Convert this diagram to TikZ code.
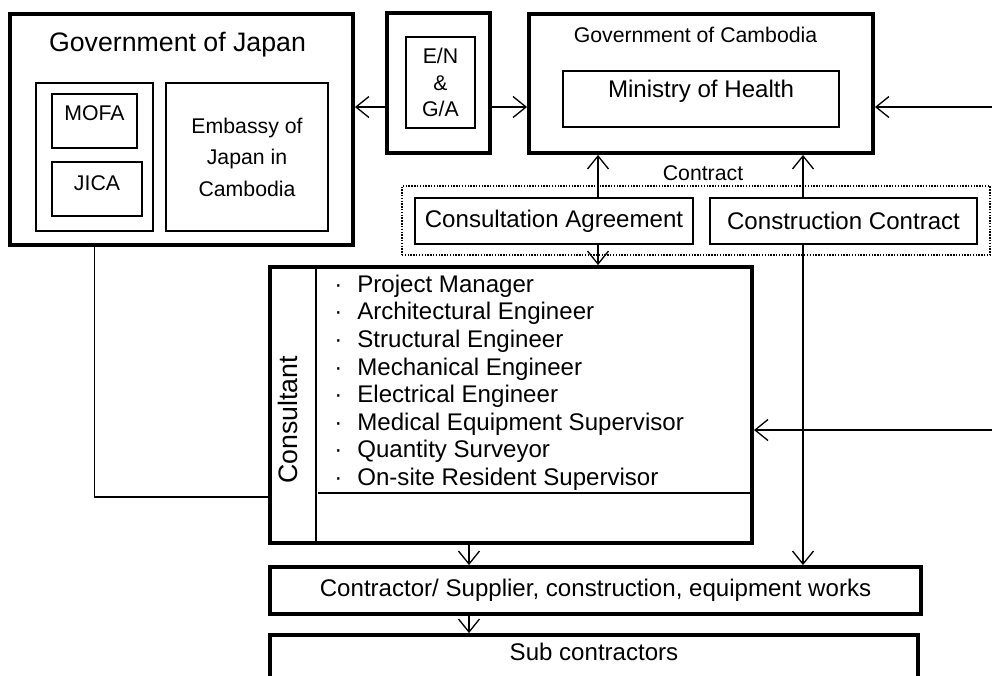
\documentclass[tikz,border=0pt]{standalone}
\usepackage{fontspec}
\setmainfont{Liberation Sans}
\usetikzlibrary{arrows.meta, positioning}

\newcommand{\sizebig}{\fontsize{15.2}{18}\selectfont}
\newcommand{\sizemid}{\fontsize{13.7}{15.7}\selectfont}
\newcommand{\sizesmall}{\fontsize{12.1}{15.3}\selectfont}
\newcommand{\sizeemb}{\fontsize{12.1}{17.9}\selectfont}
\newcommand{\staffdot}{\llap{\textperiodcentered\hspace{0.3cm}}}

\tikzset{
  bigbox/.style={draw, line width=2.2pt, inner sep=0pt},
  box/.style={draw, line width=1.1pt, inner sep=0pt},
  arr/.style={-{Straight Barb[length=0.26cm, width=0.42cm]}, line width=0.75pt},
  conn/.style={line width=0.75pt},
}

\begin{document}
\begin{tikzpicture}
  \useasboundingbox (0,0) rectangle (19.84,-13.5);
  \clip (0,0) rectangle (19.84,-13.5);

  % Government of Japan
  \node[bigbox, minimum width=6.86cm, minimum height=4.62cm] (japan) at (3.63,-2.59) {};
  \node[font=\sizebig] (japantitle) at (3.55,-0.9) {Government of Japan};
  \node[box, minimum width=2.34cm, minimum height=2.96cm] (grp) at (1.89,-3.14) {};
  \node[box, minimum width=1.7cm, minimum height=1.08cm, text depth=0.3cm, font=\sizesmall] (mofa) at (1.89,-2.42) {MOFA};
  \node[box, minimum width=1.8cm, minimum height=1.08cm, text depth=0.24cm, font=\sizesmall] (jica) at (1.94,-3.78) {JICA};
  \node[box, minimum width=3.24cm, minimum height=2.96cm, align=center, font=\sizeemb] (embassy) at (4.94,-3.14) {Embassy of\\Japan in\\Cambodia};

  % E/N & G/A
  \node[bigbox, minimum width=2.06cm, minimum height=2.8cm] (en) at (8.77,-1.66) {};
  \node[box, minimum width=1.38cm, minimum height=1.82cm, align=center, font=\sizesmall] (eninner) at (8.81,-1.65) {E/N\\\&\\G/A};

  % Government of Cambodia
  \node[bigbox, minimum width=6.88cm, minimum height=2.78cm] (camb) at (14.02,-1.67) {};
  \node[font=\sizesmall] (cambtitle) at (13.91,-0.7) {Government of Cambodia};
  \node[box, minimum width=5.52cm, minimum height=1.12cm, text depth=0.4cm, font=\sizemid] (moh) at (14.02,-1.98) {Ministry of Health};

  % Contracts
  \node[font=\sizesmall] (contract) at (14.06,-3.46) {Contract};
  \node[draw, line width=0.8pt, dash pattern=on 0.8pt off 0.8pt, minimum width=11.76cm, minimum height=1.38cm] (dotbox) at (13.92,-4.41) {};
  \node[box, minimum width=5.56cm, minimum height=0.92cm, font=\sizemid] (agree) at (11.08,-4.42) {Consultation Agreement};
  \node[box, minimum width=5.34cm, minimum height=0.92cm, font=\sizemid] (cc) at (16.87,-4.42) {Construction Contract};

  % Consultant
  \node[bigbox, minimum width=9.64cm, minimum height=5.52cm] (cons) at (10.22,-8.1) {};
  \draw[line width=1.1pt] ([xshift=0.96cm]cons.north west) -- ([xshift=0.96cm]cons.south west);
  \node[rotate=90, font=\sizebig] (constitle) at (5.76,-8.4) {Consultant};
  \node[anchor=north west, inner sep=0pt, align=left, font=\sizemid] (staff) at (7.14,-5.49) {
    \staffdot Project Manager\\
    \staffdot Architectural Engineer\\
    \staffdot Structural Engineer\\
    \staffdot Mechanical Engineer\\
    \staffdot Electrical Engineer\\
    \staffdot Medical Equipment Supervisor\\
    \staffdot Quantity Surveyor\\
    \staffdot On-site Resident Supervisor};
  \coordinate (dv) at (6.36,-9.86);
  \draw[line width=0.8pt] (dv) -- (dv -| cons.east);

  % Contractors
  \node[bigbox, minimum width=13.02cm, minimum height=0.94cm, font=\sizemid] (contractor) at (11.91,-11.81) {Contractor/ Supplier, construction, equipment works};
  \node[bigbox, minimum width=12.96cm, minimum height=1.2cm, text depth=0.52cm, font=\sizemid] (sub) at (11.88,-13.3) {Sub contractors};

  % Connectors
  \coordinate (ay) at (0,-2.14);
  \draw[arr] (en.west |- ay) -- (japan.east |- ay);
  \draw[arr] (en.east |- ay) -- (camb.west |- ay);
  \coordinate (rin1) at (19.84,-2.14);
  \draw[arr] (rin1) -- (camb.east |- rin1);
  \coordinate (xa) at (11.96,0);
  \coordinate (xb) at (16.06,0);
  \coordinate (xc) at (9.38,0);
  \draw[arr] (xa |- agree.north) -- (xa |- camb.south);
  \draw[arr] (xa |- agree.south) -- (xa |- cons.north);
  \draw[arr] (xb |- cc.north) -- (xb |- camb.south);
  \draw[arr] (xb |- cc.south) -- (xb |- contractor.north);
  \coordinate (rin2) at (19.84,-8.6);
  \draw[arr] (rin2) -- (rin2 -| cons.east);
  \draw[arr] (xc |- cons.south) -- (xc |- contractor.north);
  \draw[arr] (xc |- contractor.south) -- (xc |- sub.north);
  \coordinate (jy) at (0,-9.94);
  \draw[conn] (grp.south |- japan.south) |- (cons.west |- jy);
\end{tikzpicture}
\end{document}
